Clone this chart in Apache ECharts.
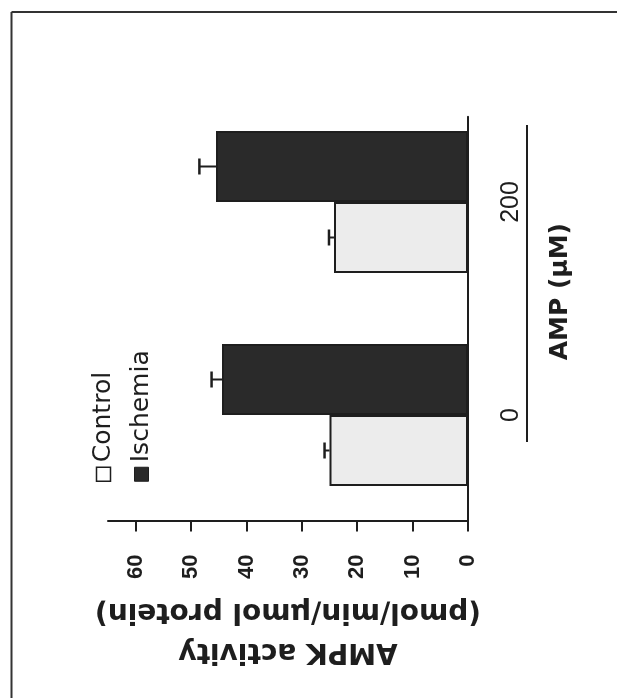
<!DOCTYPE html>
<html>
<head>
<meta charset="utf-8">
<script src="https://cdn.jsdelivr.net/npm/echarts@6/dist/echarts.min.js"></script>
<style>
  html, body { margin: 0; padding: 0; background: #fff; overflow: hidden; }
  #stage { position: absolute; left: 0; top: 0; width: 617px; height: 698px; overflow: hidden; background: #fff; }
  /* The figure is laid out upright, then turned a quarter turn counter-clockwise */
  #chart {
    position: absolute; left: 0; top: 0; width: 698px; height: 617px;
    transform-origin: 0 0; transform: translate(0, 698px) rotate(-90deg);
  }
</style>
</head>
<body>
<div id="stage"><div id="chart"></div></div>
<script>
// AMP concentration groups (µM)
const doses = ['0', '200'];
// AMPK activity, pmol/min/µmol protein (mean and SEM)
const controlMeans = [25.0, 24.2];
const controlErrors = [0.9, 0.9];
const ischemiaMeans = [44.4, 45.5];
const ischemiaErrors = [1.9, 3.0];
// value-axis tick labels
const activityTicks = [0, 10, 20, 30, 40, 50, 60];
// positions of the dose groups along the horizontal axis
const groupPositions = [0, 1];

const BAR_W = 71;
const INK = '#1e1e1e';

const chart = echarts.init(document.getElementById('chart'), null, { renderer: 'canvas' });

function toPairs(means, errs) {
  return groupPositions.map((p, i) => [p, means[i], errs[i]]);
}

function errorBarRenderer(offset) {
  return function (params, api) {
    const x = api.value(0);
    const top = api.value(1);
    const err = api.value(2);
    const a = api.coord([x, top]);
    const b = api.coord([x, top + err]);
    const cx = a[0] + offset;
    const cap = 8;
    return {
      type: 'group',
      children: [
        { type: 'line', shape: { x1: cx, y1: a[1], x2: cx, y2: b[1] }, style: { stroke: INK, lineWidth: 2 } },
        { type: 'line', shape: { x1: cx - cap, y1: b[1], x2: cx + cap, y2: b[1] }, style: { stroke: INK, lineWidth: 2.5 } }
      ]
    };
  };
}

const option = {
  backgroundColor: '#fff',
  animation: false,
  grid: { left: 176.5, right: 116.8, top: 108, bottom: 149 },
  legend: {
    orient: 'vertical',
    left: 211,
    top: 86,
    icon: 'rect',
    itemWidth: 14,
    itemHeight: 14,
    itemGap: 13,
    selectedMode: false,
    textStyle: { fontFamily: 'DejaVu Sans', fontSize: 25, color: INK },
    data: [
      { name: 'Control', itemStyle: { color: '#fff', borderColor: INK, borderWidth: 1.5 } },
      { name: 'Ischemia', itemStyle: { color: '#2a2a2a', borderColor: INK, borderWidth: 1 } }
    ]
  },
  xAxis: {
    type: 'value',
    min: -0.5,
    max: 1.4,
    name: 'AMP (µM)',
    nameLocation: 'middle',
    nameGap: 80,
    nameTextStyle: { fontFamily: 'DejaVu Sans', fontWeight: 'bold', fontSize: 25, color: INK, padding: [0, 0, 0, 55] },
    axisLine: { onZero: false, lineStyle: { color: INK, width: 2 } },
    axisTick: { show: false },
    splitLine: { show: false },
    axisLabel: {
      customValues: groupPositions,
      formatter: (v) => doses[groupPositions.indexOf(v)],
      margin: 31,
      fontFamily: 'Liberation Sans',
      fontSize: 25,
      color: INK
    }
  },
  yAxis: {
    type: 'value',
    min: 0,
    max: 65,
    interval: 10,
    name: 'AMPK activity\n(pmol/min/µmol protein)',
    nameLocation: 'middle',
    nameRotate: 90,
    nameGap: 70,
    nameTextStyle: { fontFamily: 'DejaVu Sans', fontWeight: 'bold', fontSize: 28, lineHeight: 40, color: INK },
    axisLine: { show: true, onZero: false, lineStyle: { color: INK, width: 2 } },
    axisTick: { show: true, customValues: activityTicks, length: 10, lineStyle: { color: INK, width: 2 } },
    splitLine: { show: false },
    axisLabel: {
      customValues: activityTicks,
      margin: 33,
      fontFamily: 'Liberation Sans',
      fontWeight: 'bold',
      fontSize: 22,
      color: INK
    }
  },
  graphic: [
    { type: 'line', shape: { x1: 0, y1: 11.5, x2: 686, y2: 11.5 }, style: { stroke: '#333', lineWidth: 2 } },
    { type: 'line', shape: { x1: 686, y1: 11.5, x2: 686, y2: 617 }, style: { stroke: '#333', lineWidth: 2 } },
    { type: 'line', shape: { x1: 256, y1: 527, x2: 573, y2: 527 }, style: { stroke: INK, lineWidth: 2 } }
  ],
  series: [
    {
      name: 'Control',
      type: 'bar',
      barWidth: BAR_W,
      barGap: '0%',
      itemStyle: { color: '#ececec', borderColor: INK, borderWidth: 2 },
      data: toPairs(controlMeans, controlErrors).map(d => [d[0], d[1]]),
      z: 2
    },
    {
      name: 'Ischemia',
      type: 'bar',
      barWidth: BAR_W,
      barGap: '0%',
      itemStyle: { color: '#2a2a2a', borderColor: INK, borderWidth: 2 },
      data: toPairs(ischemiaMeans, ischemiaErrors).map(d => [d[0], d[1]]),
      z: 2
    },
    {
      name: 'Control SEM',
      type: 'custom',
      renderItem: errorBarRenderer(-BAR_W / 2),
      encode: { x: 0, y: 1 },
      data: toPairs(controlMeans, controlErrors),
      z: 3
    },
    {
      name: 'Ischemia SEM',
      type: 'custom',
      renderItem: errorBarRenderer(BAR_W / 2),
      encode: { x: 0, y: 1 },
      data: toPairs(ischemiaMeans, ischemiaErrors),
      z: 3
    }
  ]
};

chart.setOption(option);
</script>
</body>
</html>
